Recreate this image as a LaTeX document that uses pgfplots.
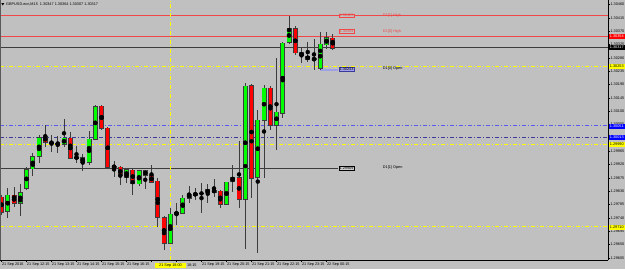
\documentclass[border=0pt]{standalone}
\usepackage{fontspec}
\setmainfont{Liberation Sans}
\usepackage{pgfplots}
\usepackage{pgfplotstable}
\pgfplotsset{compat=1.18}
\definecolor{bgc}{HTML}{C0C0C0}
\definecolor{wick}{HTML}{3C3C3C}
\definecolor{bull}{HTML}{00FF00}
\definecolor{bear}{HTML}{FF0000}
\definecolor{yel}{HTML}{FFFF00}
\definecolor{lred}{HTML}{F04848}
\definecolor{blu1}{HTML}{5A5AF0}
\definecolor{blu2}{HTML}{3A3A9A}
\definecolor{lav}{HTML}{A0A0E6}
\newcommand{\tf}{\fontsize{3.8}{4.2}\selectfont}

\pgfplotstableread{
i o h l c
1 1.29764 1.29841 1.29740 1.29818
3 1.29791 1.29855 1.29747 1.29828
4 1.29841 1.29912 1.29835 1.29905
5 1.29905 1.29959 1.29882 1.29946
6 1.29949 1.30020 1.29926 1.30013
10 1.29990 1.30074 1.29980 1.30010
12 1.29943 1.29983 1.29926 1.29946
14 1.29929 1.30034 1.29919 1.30007
15 1.30007 1.30121 1.30003 1.30118
20 1.29878 1.29909 1.29858 1.29905
22 1.29855 1.29902 1.29848 1.29899
27 1.29656 1.29774 1.29652 1.29754
28 1.29754 1.29791 1.29716 1.29760
29 1.29757 1.29818 1.29754 1.29808
30 1.29808 1.29848 1.29791 1.29821
31 1.29818 1.29841 1.29801 1.29824
33 1.29824 1.29855 1.29791 1.29835
36 1.29787 1.29862 1.29784 1.29862
37 1.29865 1.29919 1.29828 1.29878
39 1.29804 1.30196 1.29635 1.30186
41 1.29878 1.30105 1.29622 1.30071
42 1.30071 1.30192 1.29875 1.30179
44 1.30054 1.30280 1.29970 1.30098
45 1.30094 1.30334 1.30078 1.30331
46 1.30334 1.30423 1.30327 1.30378
51 1.30246 1.30368 1.30240 1.30327
52 1.30324 1.30368 1.30310 1.30348
}\bulltab

\pgfplotstableread{
i o h l c
0 1.29811 1.29818 1.29750 1.29760
2 1.29818 1.29845 1.29777 1.29791
7 1.30017 1.30054 1.29980 1.29997
8 1.29997 1.30020 1.29963 1.29993
9 1.29993 1.30017 1.29959 1.29990
11 1.30010 1.30030 1.29939 1.29943
13 1.29946 1.29956 1.29899 1.29929
16 1.30118 1.30121 1.30037 1.30044
17 1.30044 1.30047 1.29909 1.29912
18 1.29916 1.29932 1.29878 1.29912
19 1.29912 1.29916 1.29851 1.29882
21 1.29902 1.29905 1.29818 1.29858
23 1.29899 1.29902 1.29838 1.29885
24 1.29885 1.29919 1.29858 1.29862
25 1.29865 1.29875 1.29710 1.29743
26 1.29743 1.29747 1.29632 1.29656
34 1.29835 1.29872 1.29811 1.29828
35 1.29831 1.29835 1.29774 1.29787
38 1.29878 1.30003 1.29774 1.29804
40 1.30186 1.30192 1.29808 1.29875
43 1.30179 1.30186 1.30037 1.30054
47 1.30378 1.30388 1.30290 1.30297
48 1.30297 1.30317 1.30263 1.30287
49 1.30287 1.30334 1.30267 1.30277
50 1.30278 1.30344 1.30240 1.30275
53 1.30348 1.30364 1.30307 1.30314
}\beartab

\pgfplotstableread{
i o h l c
32 1.29824 1.29858 1.29757 1.29824
}\dojitab

\pgfplotsset{
  wicks/.style={only marks, mark=none, forget plot,
    error bars/.cd, y dir=both, y explicit, error mark=none,
    error bar style={draw=wick, solid, line width=0.8pt}},
  bodies/.style 2 args={only marks, mark=none, forget plot,
    error bars/.cd, y dir=both, y explicit, error mark=none,
    error bar style={draw=#1, solid, line width=#2}},
}

\begin{document}
\begin{tikzpicture}[x=1pt,y=1pt]
\path[use as bounding box] (0,-9) rectangle (625,260);
\fill[bgc] (0,-9) rectangle (625,260);
\begin{axis}[
  at={(0,0)}, anchor=south west,
  scale only axis, width=608pt, height=260pt,
  xmin=-0.24, xmax=97.04,
  ymin=1.2959825, ymax=1.3047575,
  axis x line*=bottom, axis y line*=right,
  axis line style={black, line width=0.8pt, -},
  tick align=outside, major tick length=2pt,
  tick style={black, line width=0.5pt},
  xtick={0,4,...,52},
  xticklabels={21 Sep 2016,21 Sep 12:15,21 Sep 13:15,21 Sep 14:15,21 Sep 15:15,21 Sep 16:15,,,21 Sep 19:15,21 Sep 20:15,21 Sep 21:15,21 Sep 22:15,21 Sep 23:15,22 Sep 00:15},
  xticklabel style={font=\tf, anchor=north west, inner sep=0.3pt},
  ytick={1.29605,1.29650,1.29695,1.29740,1.29785,1.29830,1.29875,1.29920,1.29965,1.30010,1.30055,1.30100,1.30145,1.30190,1.30235,1.30280,1.30325,1.30370,1.30415,1.30460},
  yticklabels={1.29605,1.29650,1.29695,1.29740,1.29785,1.29830,1.29875,1.29920,1.29965,1.30010,1.30055,1.30100,1.30145,1.30190,1.30235,1.30280,1.30325,1.30370,1.30415,1.30460},
  yticklabel style={font=\tf, anchor=west, inner sep=0.3pt},
]
% horizontal levels
\addplot[lred, line width=0.8pt] coordinates {(-0.24,1.30423) (97.04,1.30423)};
\addplot[lred, line width=0.8pt] coordinates {(-0.24,1.30354) (97.04,1.30354)};
\addplot[wick, line width=0.8pt] coordinates {(-0.24,1.30317) (97.04,1.30317)};
\addplot[yel, line width=0.8pt, dash pattern=on 4pt off 2pt on 1pt off 2pt] coordinates {(-0.24,1.30253) (97.04,1.30253)};
\addplot[blu1, line width=0.8pt, dash pattern=on 4pt off 2pt on 1pt off 2pt] coordinates {(-0.24,1.30051) (97.04,1.30051)};
\addplot[blu2, line width=0.8pt, dash pattern=on 4pt off 2pt on 1pt off 2pt] coordinates {(-0.24,1.30013) (97.04,1.30013)};
\addplot[yel, line width=0.8pt, dash pattern=on 4pt off 2pt on 1pt off 2pt] coordinates {(-0.24,1.29990) (97.04,1.29990)};
\addplot[yel, line width=0.8pt, dash pattern=on 4pt off 2pt on 1pt off 2pt] coordinates {(-0.24,1.29710) (97.04,1.29710)};
\addplot[wick, line width=0.8pt] coordinates {(-0.24,1.29909) (53.84,1.29909)};
\addplot[lav, line width=1.6pt] coordinates {(51,1.30240) (53.84,1.30240)};
\addplot[yel, line width=0.8pt, dash pattern=on 4pt off 2pt on 1pt off 2pt] coordinates {(27,1.2959825) (27,1.3047575)};
% wicks
\addplot[wicks] table[x=i, y expr={(\thisrow{h}+\thisrow{l})/2}, y error expr={(\thisrow{h}-\thisrow{l})/2}] {\bulltab};
\addplot[wicks] table[x=i, y expr={(\thisrow{h}+\thisrow{l})/2}, y error expr={(\thisrow{h}-\thisrow{l})/2}] {\beartab};
\addplot[wicks] table[x=i, y expr={(\thisrow{h}+\thisrow{l})/2}, y error expr={(\thisrow{h}-\thisrow{l})/2}] {\dojitab};
% body outlines
\addplot[bodies={wick}{5pt}] table[x=i, y expr={(\thisrow{o}+\thisrow{c})/2}, y error expr={abs(\thisrow{o}-\thisrow{c})/2+0.000017}] {\bulltab};
\addplot[bodies={wick}{5pt}] table[x=i, y expr={(\thisrow{o}+\thisrow{c})/2}, y error expr={abs(\thisrow{o}-\thisrow{c})/2+0.000017}] {\beartab};
% body fills
\addplot[bodies={bull}{3.4pt}] table[x=i, y expr={(\thisrow{o}+\thisrow{c})/2}, y error expr={max(abs(\thisrow{o}-\thisrow{c})/2-0.000005,0.000008)}] {\bulltab};
\addplot[bodies={bear}{3.4pt}] table[x=i, y expr={(\thisrow{o}+\thisrow{c})/2}, y error expr={max(abs(\thisrow{o}-\thisrow{c})/2-0.000005,0.000008)}] {\beartab};
\addplot[bodies={black}{5pt}] table[x=i, y expr={(\thisrow{o}+\thisrow{c})/2}, y error expr={0.000015}] {\dojitab};
% level texts
\node[anchor=west, font=\tf, text=lred, inner sep=0pt] at (axis cs:61.0,1.30423) {D1[1] High};
\node[anchor=west, font=\tf, text=lred, inner sep=0pt] at (axis cs:61.0,1.30371) {D1[0] High};
\node[anchor=west, font=\tf, inner sep=0pt] at (axis cs:61.0,1.30243) {D1[0] Open};
\node[anchor=west, font=\tf, inner sep=0pt] at (axis cs:61.0,1.29909) {D1[1] Open};
\node[font=\tf, draw=lred, text=lred, fill=bgc, inner sep=0.5pt, line width=0.5pt] at (axis cs:55.2,1.30423) {1.30423};
\node[font=\tf, draw=lred, text=lred, fill=bgc, inner sep=0.5pt, line width=0.5pt] at (axis cs:55.2,1.30371) {1.30354};
\node[font=\tf, draw=blu2, text=black, fill=lav, inner sep=0.5pt, line width=0.5pt] at (axis cs:55.2,1.30243) {1.30243};
\node[font=\tf, draw=black, text=black, fill=bgc!80!white, inner sep=0.5pt, line width=0.5pt] at (axis cs:55.2,1.29909) {1.29909};
\end{axis}
% left frame strip
\draw[gray!70!black, line width=1pt] (0.5,0) -- (0.5,260);
% title
\fill[black] (1.3,257) -- (4.3,257) -- (2.8,254.5) -- cycle;
\node[anchor=west, font=\tf, inner sep=0pt] at (6,255.7) {GBPUSD.ecn,M15\ \ 1.30347 1.30364 1.30307 1.30317};
% price boxes on the axis
\tikzset{pbox/.style={anchor=west, font=\tf, inner sep=0.3pt, minimum width=16pt, minimum height=5pt}}
\node[pbox, fill=bear, text=white] at (608.6,224) {1.30354};
\node[pbox, fill=black, text=white] at (608.6,213) {1.30317};
\node[pbox, fill=yel, text=black] at (608.6,194) {1.30253};
\node[pbox, fill=blue, text=white] at (608.6,134) {1.30051};
\node[pbox, fill=blue, text=white] at (608.6,123) {1.30013};
\node[pbox, fill=yel, text=black] at (608.6,116) {1.29990};
\node[pbox, fill=yel, text=black] at (608.6,33) {1.29710};
% time box and the part of the 18:15 label that shows beside it
\node[fill=yel, font=\tf, inner sep=0.4pt, minimum width=30.5pt, minimum height=5.6pt] at (170.5,-5.5) {21 Sep 18:00};
\node[anchor=west, font=\tf, inner sep=0.3pt] at (186.5,-4.9) {18:15};
\end{tikzpicture}
\end{document}
